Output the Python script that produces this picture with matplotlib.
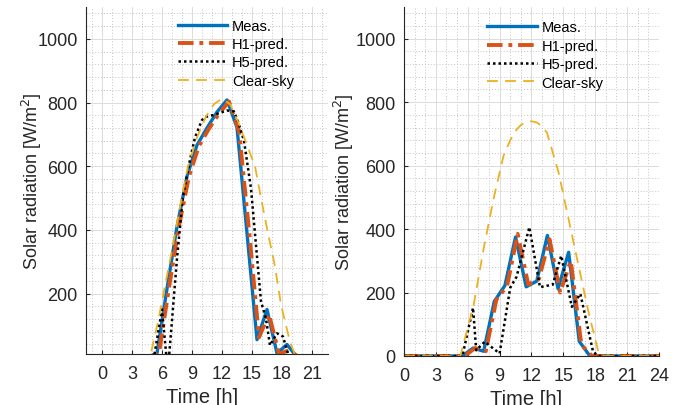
import matplotlib
matplotlib.use("Agg")
import matplotlib.pyplot as plt
from matplotlib.ticker import MultipleLocator

plt.rcParams['font.family'] = ['Liberation Sans', 'DejaVu Sans']

# --- left day (clear day) ---
meas_left_t = [0, 4.5, 5.5, 6.5, 7.5, 8.5, 9.5, 10.5, 11.5, 12.5, 13.5, 14.5, 15.5, 16.5, 17.5, 18.5, 19.5, 24]
meas_left_v = [0, 0, 12, 215, 410, 568, 666, 720, 770, 808, 722, 390, 55, 150, 12, 40, 0, 0]

h1_left_t = [0, 4.7, 5.7, 6.7, 7.7, 8.7, 9.7, 10.7, 11.7, 12.7, 13.7, 14.7, 15.7, 16.7, 17.7, 18.7, 19.7, 24]
h1_left_v = [0, 0, 12, 218, 412, 568, 664, 718, 765, 803, 712, 400, 62, 135, 10, 22, 0, 0]

h5_left_t = [0, 5.2, 6.0, 6.45, 6.7, 7.0, 7.5, 8.1, 8.8, 9.3, 10.0, 10.4, 11.3, 12.5, 13.2, 13.6, 14.2, 14.9, 15.9, 16.4, 16.8, 17.5, 18.1, 18.7, 24]
h5_left_v = [0, 0, 150, 0, 0, 115, 310, 505, 620, 690, 745, 755, 762, 775, 772, 740, 680, 530, 175, 121, 37, 75, 65, 0, 0]

clear_left_t = [0, 4.8, 5.6, 6.9, 8.0, 8.6, 9.5, 10.4, 11.2, 12.0, 12.8, 13.6, 14.4, 15.3, 15.9, 16.6, 17.3, 17.9, 18.8, 19.4, 24]
clear_left_v = [0, 0, 111, 320, 505, 600, 690, 756, 795, 812, 795, 740, 675, 600, 500, 390, 285, 165, 48, 0, 0]

# --- right day (cloudy day) ---
meas_right_t = [0, 5.5, 6.5, 7.5, 8.5, 9.5, 10.5, 11.5, 12.5, 13.5, 14.5, 15.5, 16.5, 17.5, 24]
meas_right_v = [0, 0, 25, 15, 172, 222, 375, 218, 236, 380, 212, 327, 46, 0, 0]

h1_right_t = [0, 5.7, 6.7, 7.7, 8.7, 9.7, 10.7, 11.7, 12.7, 13.7, 14.7, 15.7, 16.7, 17.7, 24]
h1_right_v = [0, 0, 25, 15, 178, 220, 385, 225, 243, 368, 200, 300, 35, 0, 0]

h5_right_t = [0, 5.5, 6.5, 6.8, 7.6, 9.0, 10.0, 10.6, 11.8, 12.8, 14.0, 14.8, 15.8, 16.6, 17.8, 18.3, 24]
h5_right_v = [0, 0, 152, 18, 45, 8, 215, 250, 406, 217, 225, 316, 155, 196, 13, 0, 0]

clear_right_t = [0, 5.3, 6.55, 7.49, 8.43, 9.37, 10.0, 10.63, 11.0, 11.5, 12.0, 12.5, 13.0, 13.46, 14.55, 15.49, 16.43, 17.37, 18.3, 18.6, 24]
clear_right_v = [0, 0, 159, 337, 495, 631, 680, 715, 728, 737, 740, 736, 724, 704, 579, 432, 285, 138, 13, 0, 0]

labels = ['Meas.', 'H1-pred.', 'H5-pred.', 'Clear-sky']
ink = '#262626'

fig = plt.figure(figsize=(6.94, 4.06), dpi=100)
ax1 = fig.add_axes([0.1239, 0.1256, 0.3487, 0.8547])
ax2 = fig.add_axes([0.5821, 0.1207, 0.3674, 0.8596])


def draw(ax, meas, h1, h5, clear):
    ax.plot(meas[0], meas[1], color='#0072BD', lw=2.4, label=labels[0])
    ax.plot(h1[0], h1[1], color='#D95319', lw=2.8, ls=(0, (4, 1.5, 1, 1.5)), label=labels[1])
    ax.plot(h5[0], h5[1], color='black', lw=1.8, ls=(0, (1, 1.2)), label=labels[2])
    ax.plot(clear[0], clear[1], color='#EDB120', lw=1.3, ls=(0, (6, 4)), label=labels[3])

    ax.xaxis.set_major_locator(MultipleLocator(3))
    ax.xaxis.set_minor_locator(MultipleLocator(1))
    ax.yaxis.set_major_locator(MultipleLocator(200))
    ax.yaxis.set_minor_locator(MultipleLocator(40))
    ax.grid(which='major', color='#dcdcdc', lw=0.7)
    ax.grid(which='minor', color='#c4c4c4', lw=0.7, ls=(0, (1, 2)))
    ax.set_axisbelow(True)

    for s in ['top', 'right']:
        ax.spines[s].set_visible(False)
    for s in ['left', 'bottom']:
        ax.spines[s].set_color(ink)
        ax.spines[s].set_linewidth(0.8)
    ax.tick_params(which='both', direction='in', colors=ink, labelsize=13)
    ax.tick_params(which='major', length=3)
    ax.tick_params(which='minor', length=0)
    ax.tick_params(axis='x', pad=8)
    ax.tick_params(axis='y', pad=6)

    ax.set_ylabel('Solar radiation [W/m$^2$]', fontsize=13, color=ink)
    ax.set_xlabel('Time [h]', fontsize=14.5, color=ink)
    ax.xaxis.set_label_coords(0.48, -0.095)
    ax.legend(loc='upper left', frameon=False, fontsize=10.5,
              handlelength=3.4, handletextpad=0.35, labelspacing=0.3, borderpad=0.3)


draw(ax1, (meas_left_t, meas_left_v), (h1_left_t, h1_left_v),
     (h5_left_t, h5_left_v), (clear_left_t, clear_left_v))
ax1.set_xlim(-1.6, 22.6)
ax1.set_ylim(10, 1100)
ax1.set_xticks(range(0, 22, 3))
ax1.yaxis.set_label_coords(-0.175, 0.5)
ax1.get_legend().set_bbox_to_anchor((0.33, 1.0))

draw(ax2, (meas_right_t, meas_right_v), (h1_right_t, h1_right_v),
     (h5_right_t, h5_right_v), (clear_right_t, clear_right_v))
ax2.set_xlim(0, 24)
ax2.set_ylim(0, 1100)
ax2.set_xticks(range(0, 25, 3))
ax2.yaxis.set_label_coords(-0.19, 0.5)
ax2.get_legend().set_bbox_to_anchor((0.28, 0.995))

fig.savefig('out.png', dpi=100)
